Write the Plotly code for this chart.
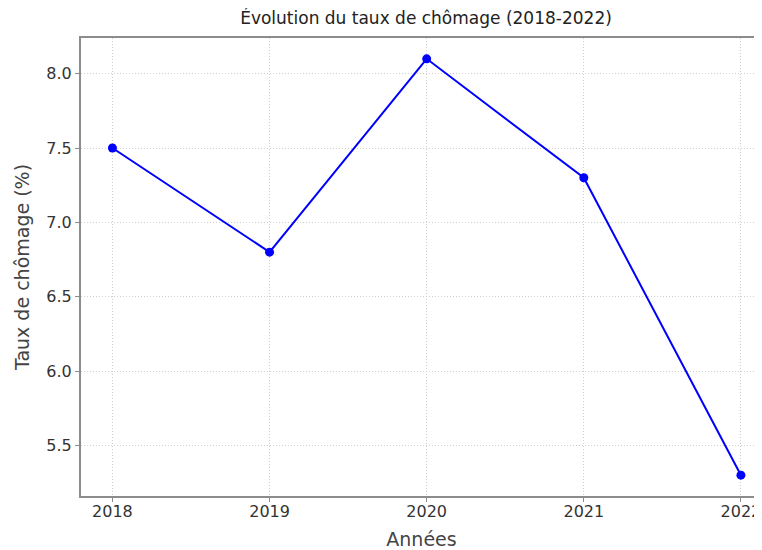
import plotly.graph_objects as go

# 데이터
annees = [2018, 2019, 2020, 2021, 2022]
taux = [7.5, 6.8, 8.1, 7.3, 5.3]
y_ticks = [5.5, 6.0, 6.5, 7.0, 7.5, 8.0]

FONT_FAMILY = "DejaVu Sans"
AXIS_COLOR = "#8c8c8c"
GRID_COLOR = "#cfcfcf"
TEXT_COLOR = "#333333"

# 페이지 body 여백(8px)을 고려해 그림 크기를 줄임
W, H = 754, 542

fig = go.Figure()
fig.add_trace(go.Scatter(
    x=annees,
    y=taux,
    mode='lines+markers',
    line=dict(color='blue', width=2),
    marker=dict(color='blue', size=9),
    hovertemplate='Année: %{x}<br>Taux: %{y:.1f} %<extra></extra>'
))

fig.update_layout(
    width=W,
    height=H,
    margin=dict(l=73, r=0, t=30, b=54),
    paper_bgcolor='white',
    plot_bgcolor='white',
    showlegend=False,
    font=dict(family=FONT_FAMILY, size=16, color=TEXT_COLOR),
    title=dict(
        text='Évolution du taux de chômage (2018-2022)',
        x=418 / W, xanchor='center',
        y=1 - 10 / H, yanchor='middle',
        font=dict(size=17, color='#222222')
    ),
    xaxis=dict(
        title=dict(text='Années', font=dict(size=19, color='#444444'), standoff=12),
        range=[2017.8, 2022.134],
        tickvals=annees,
        ticktext=[str(a) for a in annees],
        ticks='outside', ticklen=4, tickcolor=AXIS_COLOR,
        ticklabelstandoff=-4,
        showline=True, linecolor=AXIS_COLOR, linewidth=2, mirror=True,
        showgrid=True, gridcolor=GRID_COLOR, gridwidth=1, griddash='1px,2px',
        zeroline=False,
        ticklabeloverflow='allow',
    ),
    yaxis=dict(
        title=dict(text='Taux de chômage (%)', font=dict(size=19, color='#444444'), standoff=12),
        range=[5.16, 8.24],
        tickvals=y_ticks,
        ticktext=[f'{v:.1f}' for v in y_ticks],
        ticks='outside', ticklen=4, tickcolor=AXIS_COLOR,
        showline=True, linecolor=AXIS_COLOR, linewidth=2, mirror=False,
        showgrid=True, gridcolor=GRID_COLOR, gridwidth=1, griddash='1px,2px',
        zeroline=False,
    ),
)

fig.write_html("out.html")
